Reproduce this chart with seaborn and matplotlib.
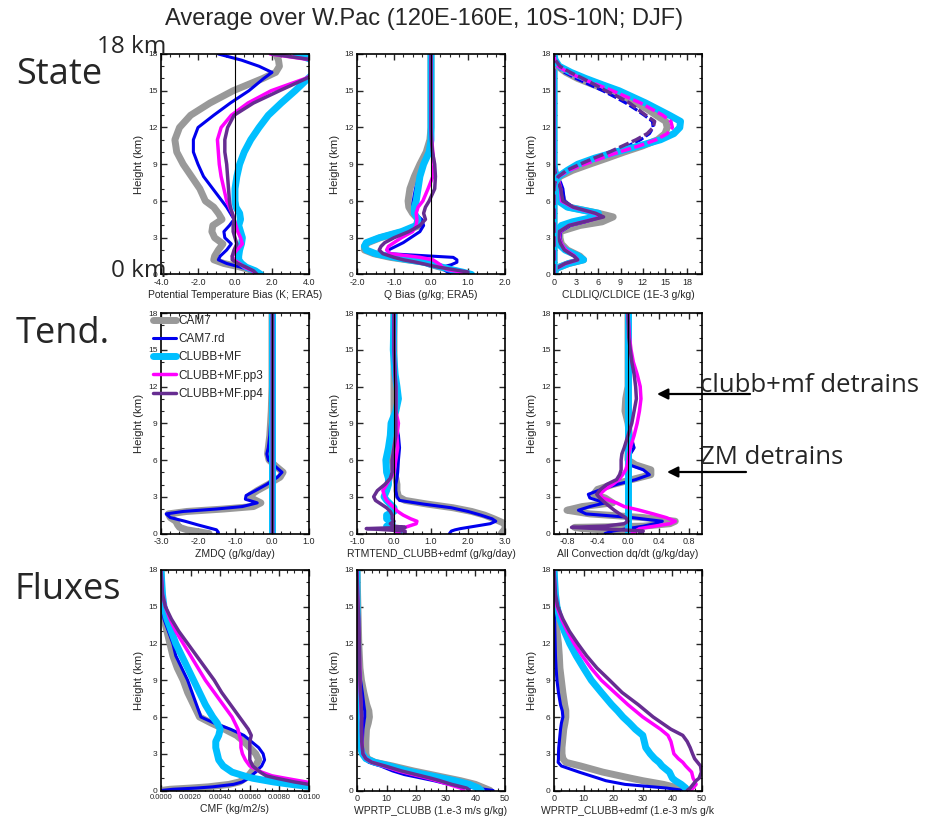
"""Vertikalprofile ueber dem W.Pac (DJF): Zustand, Tendenzen und Fluesse fuer fuenf Modelllaeufe."""

import matplotlib
matplotlib.use('Agg')
import matplotlib.pyplot as plt
import seaborn as sns
from matplotlib.ticker import FormatStrFormatter, MultipleLocator


# Laeufe und Linienstile
RUNS = ['CAM7', 'CAM7.rd', 'CLUBB+MF', 'CLUBB+MF.pp3', 'CLUBB+MF.pp4']
COLORS = ['#999999', '#0000ee', '#00bfff', '#ff00ff', '#662d91']
WIDTHS = [5.0, 2.2, 5.0, 2.5, 2.5]

# Potentielle Temperatur (K)
Z_THETA = [0, 0.3, 0.6, 0.9, 1.2, 1.5, 2.0, 2.5, 3.0, 3.5, 4.0, 4.5, 5.0, 5.5, 6.0, 7.0, 8.0, 9.0,
           10, 11, 12, 13, 14, 15, 16, 16.5, 17, 17.5, 18]
THETA_CAM7 = [1.3, 1.0, 0.3, -0.6, -1.15, -1.1, -0.9, -0.65, -1.1, -1.25, -1.2, -0.7, -0.9, -1.15, -1.6,
              -1.9, -2.35, -2.8, -3.15, -3.25, -3.0, -2.4, -1.35, -0.1, 1.5, 2.2, 2.4, 2.35, 2.2]
THETA_RD = [1.3, 0.95, 0.3, -0.45, -0.9, -0.8, -0.45, -0.2, -0.55, -0.6, -0.3, -0.05, -0.25, -0.45, -0.7,
            -1.2, -1.7, -2.0, -2.25, -2.25, -2.0, -1.15, -0.25, 0.75, 1.55, 2.0, 1.3, 0.35, -0.9]
THETA_MF = [1.4, 1.1, 0.6, 0.35, 0.2, 0.2, 0.25, 0.35, 0.4, 0.3, 0.2, 0.3, 0.25, 0.05, 0.0,
            0.0, 0.1, 0.25, 0.5, 0.85, 1.3, 1.8, 2.5, 3.25, 3.95, 4.3, 4.3, 4.2, 3.3]
THETA_PP3 = [1.15, 0.95, 0.5, 0.25, -0.05, -0.15, 0.1, 0.4, 0.3, 0.15, 0.05, -0.05, -0.15, -0.3, -0.45,
             -0.6, -0.75, -0.85, -0.9, -0.95, -0.75, -0.2, 0.7, 1.95, 3.8, 4.4, 4.5, 4.2, 1.9]
THETA_PP4 = [1.2, 1.0, 0.6, 0.15, -0.15, -0.15, -0.05, 0.1, 0.0, -0.1, -0.1, -0.05, -0.15, -0.25, -0.3,
             -0.35, -0.4, -0.45, -0.55, -0.55, -0.4, -0.05, 1.0, 2.4, 3.85, 4.5, 4.5, 4.3, 2.0]

# Spezifische Feuchte (g/kg)
Z_Q = [0, 0.2, 0.4, 0.6, 0.8, 1.0, 1.2, 1.4, 1.7, 2.0, 2.3, 2.6, 3.0, 3.5, 4.0, 4.5, 5.0, 5.5, 6.0,
       7.0, 8.0, 9.0, 10, 11, 12, 14, 16, 18]
Q_CAM7 = [1.0, 0.75, 0.5, 0.25, 0.0, -0.15, -0.65, -1.1, -1.55, -1.8, -1.8, -1.7, -1.37, -0.75, -0.3,
          -0.35, -0.5, -0.6, -0.62, -0.57, -0.45, -0.3, -0.13, -0.03, 0.0, 0.0, 0.0, 0.0]
Q_RD = [0.6, 0.45, 0.35, 0.3, 0.55, 0.7, 0.7, 0.6, -1.15, -1.15, -0.95, -0.75, -0.55, -0.3, -0.2,
        -0.25, -0.45, -0.5, -0.48, -0.42, -0.32, -0.2, -0.05, 0.0, 0.0, 0.0, 0.0, 0.0]
Q_MF = [1.1, 0.85, 0.55, 0.3, 0.05, -0.2, -0.6, -1.0, -1.5, -1.75, -1.8, -1.75, -1.4, -0.8, -0.4,
        -0.35, -0.45, -0.45, -0.4, -0.35, -0.3, -0.2, -0.05, 0.0, 0.0, 0.0, 0.0, 0.0]
Q_PP3 = [1.0, 0.8, 0.45, 0.3, 0.25, 0.15, 0.05, -0.3, -1.1, -1.2, -1.15, -1.0, -0.8, -0.5, -0.4,
         -0.38, -0.4, -0.35, -0.22, -0.08, 0.05, 0.08, 0.05, 0.02, 0.0, 0.0, 0.0, 0.0]
Q_PP4 = [0.9, 1.0, 0.6, 0.2, -0.1, -0.4, -0.75, -1.0, -1.3, -1.4, -1.35, -1.25, -1.0, -0.6, -0.3,
         -0.15, -0.2, -0.15, -0.05, 0.1, 0.12, 0.1, 0.04, 0.01, 0.0, 0.0, 0.0, 0.0]

# Wolkenwasser (durchgezogen) und Wolkeneis (gestrichelt), 1E-3 g/kg
Z_CLD = [0, 0.5, 0.9, 1.2, 1.5, 2.0, 2.5, 3.0, 3.5, 4.0, 4.3, 4.7, 5.0, 5.5, 6.0, 7.0, 7.5, 8.0, 8.5,
         9.0, 9.5, 10, 10.5, 11, 11.5, 12, 12.5, 13, 13.5, 14, 14.5, 15, 15.5, 16, 16.5, 17, 17.5, 18]
LIQ_CAM7 = [0.0, 0.3, 2.0, 4.0, 3.5, 1.8, 1.0, 0.8, 0.8, 3.5, 6.5, 8.0, 6.0, 2.0, 1.2, 0.8, 0.5, 0.3, 0.1,
            0.0, 0.0, 0.0, 0.0, 0.0, 0.0, 0.0, 0.0, 0.0, 0.0, 0.0, 0.0, 0.0, 0.0, 0.0, 0.0, 0.0, 0.0, 0.0]
LIQ_RD = [0.0, 0.3, 1.6, 3.2, 2.8, 1.6, 1.0, 0.8, 0.9, 2.2, 4.2, 6.4, 5.2, 2.6, 1.4, 1.2, 0.9, 0.5, 0.1,
          0.0, 0.0, 0.0, 0.0, 0.0, 0.0, 0.0, 0.0, 0.0, 0.0, 0.0, 0.0, 0.0, 0.0, 0.0, 0.0, 0.0, 0.0, 0.0]
LIQ_MF = [0.0, 0.3, 2.0, 4.0, 3.3, 1.5, 0.6, 0.3, 0.3, 1.0, 2.5, 5.5, 6.0, 1.8, 0.6, 0.4, 0.35, 0.3, 0.1,
          0.0, 0.0, 0.0, 0.0, 0.0, 0.0, 0.0, 0.0, 0.0, 0.0, 0.0, 0.0, 0.0, 0.0, 0.0, 0.0, 0.0, 0.0, 0.0]
LIQ_PP3 = [0.0, 0.3, 1.6, 3.2, 2.8, 1.6, 1.0, 0.7, 0.8, 2.0, 4.0, 6.5, 5.5, 2.5, 1.0, 0.9, 0.7, 0.4, 0.1,
           0.0, 0.0, 0.0, 0.0, 0.0, 0.0, 0.0, 0.0, 0.0, 0.0, 0.0, 0.0, 0.0, 0.0, 0.0, 0.0, 0.0, 0.0, 0.0]
LIQ_PP4 = [0.0, 0.3, 1.5, 3.2, 2.7, 1.4, 0.9, 0.6, 0.7, 2.0, 4.0, 6.7, 5.6, 2.6, 1.2, 0.9, 0.6, 0.3, 0.1,
           0.0, 0.0, 0.0, 0.0, 0.0, 0.0, 0.0, 0.0, 0.0, 0.0, 0.0, 0.0, 0.0, 0.0, 0.0, 0.0, 0.0, 0.0, 0.0]
ICE_CAM7 = [0.0, 0.0, 0.0, 0.0, 0.0, 0.0, 0.0, 0.0, 0.0, 0.0, 0.0, 0.0, 0.0, 0.0, 0.0, 0.0,
            0.1, 0.8, 2.5, 4.8, 7.2, 9.5, 12.0, 14.0, 15.0, 15.3, 15.1, 13.8, 12.6, 11.1, 9.3, 7.5,
            5.3, 3.2, 1.6, 0.5, 0.1, 0.0]
ICE_RD = [0.0, 0.0, 0.0, 0.0, 0.0, 0.0, 0.0, 0.0, 0.0, 0.0, 0.0, 0.0, 0.0, 0.0, 0.0, 0.0,
          0.1, 0.6, 1.8, 3.5, 5.6, 7.8, 10.0, 11.7, 12.9, 13.4, 13.3, 12.2, 11.0, 9.7, 8.2, 6.6,
          4.8, 3.0, 1.4, 0.4, 0.1, 0.0]
ICE_MF = [0.0, 0.0, 0.0, 0.0, 0.0, 0.0, 0.0, 0.0, 0.0, 0.0, 0.0, 0.0, 0.0, 0.0, 0.0, 0.0,
          0.1, 0.6, 1.8, 3.2, 5.5, 8.4, 11.5, 14.4, 16.2, 17.0, 17.1, 15.6, 14.0, 12.4, 10.6, 8.8,
          6.5, 4.3, 2.3, 0.7, 0.15, 0.0]
ICE_PP3 = [0.0, 0.0, 0.0, 0.0, 0.0, 0.0, 0.0, 0.0, 0.0, 0.0, 0.0, 0.0, 0.0, 0.0, 0.0, 0.0,
           0.1, 0.6, 2.0, 4.1, 6.4, 8.8, 11.5, 13.8, 15.3, 16.0, 15.8, 14.7, 13.2, 11.7, 9.8, 7.9,
           5.8, 3.7, 1.9, 0.5, 0.1, 0.0]
ICE_PP4 = [0.0, 0.0, 0.0, 0.0, 0.0, 0.0, 0.0, 0.0, 0.0, 0.0, 0.0, 0.0, 0.0, 0.0, 0.0, 0.0,
           0.1, 0.6, 1.7, 3.5, 5.4, 7.5, 9.3, 11.1, 12.6, 13.4, 13.6, 12.4, 11.3, 10.2, 8.7, 7.0,
           5.5, 3.9, 2.2, 0.8, 0.2, 0.0]

# ZMDQ (g/kg/day)
Z_ZMDQ = [0, 0.1, 0.3, 0.5, 0.7, 1.0, 1.3, 1.6, 1.8, 2.0, 2.2, 2.5, 2.8, 3.1, 3.5, 4.0, 4.3, 4.6, 5.0,
          5.5, 6.0, 6.5, 7, 8, 9, 10, 12, 15, 18]
ZMDQ_CAM7 = [-1.7, -1.9, -2.3, -2.5, -2.55, -2.6, -2.75, -2.8, -2.3, -1.3, -0.5, -0.3, -0.5, -0.6, -0.4,
             -0.1, 0.05, 0.22, 0.3, 0.1, -0.08, -0.12, -0.1, -0.06, -0.04, -0.02, 0.0, 0.0, 0.0]
ZMDQ_RD = [-1.45, -1.45, -1.5, -1.75, -2.0, -2.35, -2.75, -2.86, -2.4, -1.5, -0.8, -0.4, -0.72, -0.7, -0.45,
           -0.15, 0.0, 0.15, 0.27, 0.08, -0.1, -0.14, -0.1, -0.06, -0.04, -0.02, 0.0, 0.0, 0.0]
Z_FLAT = [0, 18]
ZMDQ_MF = [0.0, 0.0]
ZMDQ_PP3 = [0.0, 0.0]
ZMDQ_PP4 = [0.0, 0.0]

# RTMTEND_CLUBB+edmf (g/kg/day)
Z_RTM = [0, 0.2, 0.3, 0.4, 0.5, 0.6, 0.8, 1.0, 1.2, 1.5, 1.8, 2.1, 2.4, 2.7, 3.0, 3.5, 4.0, 4.5, 5.0,
         6.0, 7.0, 8.0, 9.0, 10, 11, 12, 13, 15, 18]
RTM_CAM7 = [2.9, 2.95, 3.0, 3.0, 3.0, 3.0, 3.0, 2.85, 2.7, 2.45, 2.1, 1.6, 0.9, 0.3, 0.12, 0.08, 0.08,
            0.05, 0.0, -0.05, -0.05, 0.0, 0.0, 0.0, 0.0, 0.0, 0.0, 0.0, 0.0]
RTM_RD = [1.5, 1.55, 1.65, 1.8, 2.0, 2.2, 2.6, 2.75, 2.65, 2.35, 2.0, 1.55, 0.8, 0.15, 0.08, 0.05, 0.05,
          0.08, 0.1, 0.12, 0.15, 0.12, 0.05, 0.08, 0.15, 0.1, 0.05, 0.02, 0.0]
RTM_MF = [0.1, 0.15, 0.1, 0.05, -0.1, -0.2, -0.05, -0.1, -0.2, -0.2, 0.0, 0.0, -0.1, -0.2, -0.27, -0.2,
          -0.15, -0.15, -0.2, -0.22, -0.15, -0.1, -0.08, 0.05, 0.12, 0.08, 0.03, -0.02, 0.0]
RTM_PP3 = [0.15, 0.05, 0.05, 0.2, 0.3, 0.4, 0.6, 0.62, 0.45, 0.25, 0.1, 0.0, -0.1, -0.2, -0.25, -0.3,
           -0.2, -0.1, 0.0, 0.05, 0.1, 0.08, 0.12, 0.05, 0.05, 0.05, 0.03, 0.0, 0.0]
RTM_PP4 = [0.3, 0.3, -0.2, -0.75, 0.3, 0.0, -0.1, 0.0, -0.05, -0.05, -0.1, -0.2, -0.35, -0.5, -0.55,
           -0.45, -0.25, -0.1, -0.05, -0.05, 0.0, 0.05, 0.05, 0.05, 0.05, 0.05, 0.03, 0.0, 0.0]

# Gesamte Konvektion dq/dt (g/kg/day)
Z_CONV = [0, 0.2, 0.4, 0.5, 0.6, 0.8, 1.0, 1.3, 1.6, 1.9, 2.2, 2.5, 2.9, 3.2, 3.6, 4.0, 4.4, 4.8, 5.2,
          5.6, 6.0, 6.5, 7.0, 8, 9, 10, 11, 12, 13, 14, 15, 16, 18]
CONV_CAM7 = [0.05, -0.1, -0.6, -0.7, 0.2, 0.55, 0.62, 0.2, -0.5, -0.8, -0.6, -0.2, -0.3, -0.45, -0.4,
             -0.2, 0.05, 0.3, 0.3, 0.1, 0.0, 0.0, 0.05, 0.02, 0.0, -0.04, -0.03, 0.0, 0.0, 0.0, 0.0, 0.0, 0.0]
CONV_RD = [-0.3, -0.2, 0.0, 0.1, 0.2, 0.35, 0.45, 0.05, -0.55, -0.65, -0.5, -0.3, -0.5, -0.52, -0.35,
           -0.15, 0.1, 0.28, 0.2, 0.02, -0.02, 0.03, 0.08, 0.03, 0.0, 0.0, 0.0, 0.0, 0.0, 0.0, 0.0, 0.0, 0.0]
CONV_MF = [0.0, 0.0]
CONV_PP3 = [0.05, 0.1, 0.15, 0.25, 0.35, 0.55, 0.62, 0.5, 0.33, 0.15, -0.05, -0.15, -0.33, -0.37, -0.3,
            -0.2, -0.12, -0.07, -0.03, -0.01, 0.0, 0.01, 0.03, 0.08, 0.12, 0.15, 0.17, 0.16, 0.12, 0.07,
            0.04, 0.02, 0.0]
CONV_PP4 = [0.15, 0.2, -0.4, -0.74, -0.3, -0.05, 0.0, -0.03, -0.11, -0.18, -0.24, -0.3, -0.37, -0.41, -0.36,
            -0.28, -0.15, -0.11, -0.09, -0.09, -0.09, -0.08, -0.05, 0.0, 0.05, 0.08, 0.11, 0.1, 0.08, 0.05,
            0.03, 0.01, 0.0]

# Konvektiver Massenfluss (kg/m2/s)
Z_CMF = [0, 0.1, 0.2, 0.3, 0.5, 0.7, 1.0, 1.2, 1.5, 2.0, 2.5, 3.0, 3.5, 4.0, 4.5, 5.0, 5.5, 6.0, 7.0,
         8.0, 9.0, 10, 11, 12, 13, 14, 15, 16, 18]
CMF_CAM7 = [0.0, 0.0006, 0.0020, 0.0032, 0.0046, 0.0053, 0.0057, 0.0059, 0.0061, 0.0064, 0.0066, 0.0064,
            0.0060, 0.0056, 0.0051, 0.0043, 0.0034, 0.0026, 0.0022, 0.0018, 0.0015, 0.0011, 0.0008, 0.0006,
            0.0004, 0.0002, 0.0001, 0.00005, 0.0]
CMF_RD = [0.0, 0.0008, 0.0024, 0.0035, 0.0049, 0.0055, 0.0059, 0.0061, 0.0064, 0.0068, 0.0070, 0.0069,
          0.0066, 0.0061, 0.0056, 0.0047, 0.0036, 0.0027, 0.0024, 0.0021, 0.0018, 0.0014, 0.0010, 0.0008,
          0.0005, 0.0002, 0.0001, 0.00005, 0.0]
CMF_MF = [0.0110, 0.0110, 0.0106, 0.0102, 0.0088, 0.0076, 0.0062, 0.0056, 0.0048, 0.0042, 0.0039, 0.0038,
          0.0037, 0.0037, 0.0039, 0.0040, 0.0038, 0.0035, 0.0030, 0.0026, 0.0022, 0.0018, 0.0014, 0.0010,
          0.0007, 0.0004, 0.0002, 0.0001, 0.0]
CMF_PP3 = [0.0115, 0.0115, 0.0112, 0.0110, 0.0105, 0.0098, 0.0084, 0.0075, 0.0068, 0.0060, 0.0057, 0.0055,
           0.0054, 0.0054, 0.0053, 0.0052, 0.0050, 0.0048, 0.0042, 0.0036, 0.0030, 0.0025, 0.0020, 0.0015,
           0.0010, 0.0006, 0.0003, 0.0001, 0.0]
CMF_PP4 = [0.0115, 0.0115, 0.0112, 0.0108, 0.0100, 0.0090, 0.0078, 0.0071, 0.0067, 0.0062, 0.0060, 0.0060,
           0.0060, 0.0060, 0.0061, 0.0059, 0.0056, 0.0053, 0.0047, 0.0041, 0.0036, 0.0030, 0.0024, 0.0018,
           0.0012, 0.0007, 0.0003, 0.0001, 0.0]

# WPRTP_CLUBB (1.e-3 m/s g/kg)
Z_WP = [0, 0.2, 0.5, 0.8, 1.0, 1.3, 1.6, 2.0, 2.3, 2.6, 3.0, 3.5, 4.0, 5.0, 5.5, 6.0, 6.5, 7.0, 8.0, 9.0,
        10, 12, 14, 16, 18]
WP_CAM7 = [45, 43, 40, 35, 31, 25, 19, 12, 6, 3.5, 3.0, 3.0, 3.0, 3.2, 3.8, 4.2, 4.0, 3.3, 2.3, 1.5,
           1.0, 0.6, 0.4, 0.2, 0.0]
WP_RD = [46, 40, 31, 26, 22, 16, 12, 8, 4, 2.5, 2.0, 1.8, 1.8, 2.0, 2.3, 2.6, 2.6, 2.3, 1.8, 1.2,
         0.8, 0.5, 0.3, 0.1, 0.0]
WP_MF = [42, 41, 38, 33, 29, 23, 17, 11, 6, 3, 1.8, 1.2, 1.0, 0.8, 0.7, 0.6, 0.6, 0.5, 0.4, 0.3,
         0.2, 0.2, 0.1, 0.0, 0.0]
WP_PP3 = [36, 35, 31, 27, 24, 19, 14, 9, 5, 3, 2.0, 1.8, 1.6, 1.5, 1.5, 1.5, 1.4, 1.3, 1.1, 1.0,
          0.9, 0.7, 0.5, 0.2, 0.0]
WP_PP4 = [38, 37, 32, 28, 25, 20, 15, 9.5, 5, 3, 2.0, 1.8, 1.6, 1.5, 1.5, 1.6, 1.5, 1.4, 1.2, 1.0,
          0.9, 0.8, 0.6, 0.2, 0.0]

# WPRTP_CLUBB+edmf (1.e-3 m/s g/kg)
Z_WPE = [0, 0.2, 0.5, 0.8, 1.0, 1.5, 2.0, 2.3, 2.6, 3.0, 3.5, 4.0, 4.5, 5.0, 5.5, 6.0, 6.5, 7.0, 8.0,
         9.0, 10, 11, 12, 13, 14, 15, 16, 18]
WPE_CAM7 = [45, 42, 37, 30, 26, 16.5, 9, 4, 3, 2.7, 2.7, 2.9, 3.1, 3.3, 3.7, 4.0, 4.0, 3.6, 3.0, 2.5,
            2.0, 1.8, 1.5, 1.0, 0.5, 0.2, 0.1, 0.0]
WPE_RD = [44, 38, 24, 17.5, 15, 8.5, 2.5, 1.4, 1.5, 1.5, 1.6, 1.8, 2.0, 2.2, 2.5, 3.0, 2.8, 2.2, 1.5,
          1.0, 0.7, 0.5, 0.4, 0.3, 0.2, 0.1, 0.05, 0.0]
WPE_MF = [45, 44.5, 43, 41, 40, 39, 36.5, 35.5, 34, 32.5, 31, 30.5, 30, 27.5, 25.5, 23.3, 21.5, 19.5,
          16, 12.6, 10, 7.5, 5.3, 3.5, 2.0, 1.0, 0.5, 0.0]
WPE_PP3 = [46, 47, 48, 47.5, 47, 46.5, 44.5, 43.5, 42, 40.5, 40, 39.5, 38.5, 36, 33, 30, 27.5, 25,
           20.5, 16, 12.5, 9.5, 6.8, 4.5, 2.5, 1.0, 0.4, 0.0]
WPE_PP4 = [45, 46, 47, 48, 49, 49.8, 49.5, 48.5, 47.5, 46.8, 46, 45, 43.5, 39.5, 36.5, 33.5, 31, 28.5,
           23, 18.8, 14.5, 11, 8, 5.2, 3.0, 1.3, 0.5, 0.0]

W, H = 929, 822
COL_LEFT = [161, 357, 554]
ROW_TOP = [54, 313, 570]
AX_W, AX_H = 148, 220.5


def draw_profiles(ax, profiles, dashed=False):
    """Zeichnet die fuenf Laeufe als Hoehenprofile (Hoehe auf der y-Achse)."""
    for run, (heights, values), color, width in zip(RUNS, profiles, COLORS, WIDTHS):
        kws = {}
        if dashed and width < 4:
            kws['linestyle'] = (0, (3, 1))
        sns.lineplot(x=values, y=heights, orient='y', estimator=None, sort=False, color=color,
                     linewidth=width, label=run, legend=False, ax=ax, **kws)


def style_axes(ax, xlim, xmajor, xminor, xfmt, xlabel, zero_line=True, xtick_size=6.5):
    """NCL-artiger Rahmen: Ticks nach innen auf allen Seiten."""
    if zero_line:
        ax.axvline(0, color='black', lw=0.8, zorder=6)
    ax.set_xlim(*xlim)
    ax.set_ylim(0, 18)
    ax.xaxis.set_major_locator(MultipleLocator(xmajor))
    ax.xaxis.set_minor_locator(MultipleLocator(xminor))
    ax.xaxis.set_major_formatter(FormatStrFormatter(xfmt))
    ax.yaxis.set_major_locator(MultipleLocator(3))
    ax.yaxis.set_minor_locator(MultipleLocator(1))
    ax.tick_params(which='both', direction='in', top=True, right=True, pad=2.5)
    ax.tick_params(axis='x', labelsize=xtick_size)
    ax.tick_params(axis='y', labelsize=6)
    ax.tick_params(which='major', length=4.5, width=1.0)
    ax.tick_params(which='minor', length=2.2, width=0.8)
    ax.set_xlabel(xlabel, fontsize=7.5, labelpad=2.5)
    ax.set_ylabel('Height (km)', fontsize=8.2, labelpad=3)
    for spine in ax.spines.values():
        spine.set_visible(True)
        spine.set_color('black')
        spine.set_linewidth(1.2)


def main():
    sns.set_style('ticks')
    plt.rcParams['font.family'] = ['Liberation Sans', 'DejaVu Sans']

    fig = plt.figure(figsize=(W / 100, H / 100), dpi=100)
    axes = [[fig.add_axes([left / W, 1 - (top + AX_H) / H, AX_W / W, AX_H / H]) for left in COL_LEFT]
            for top in ROW_TOP]

    # Zeile 1: Zustand
    ax = axes[0][0]
    draw_profiles(ax, [(Z_THETA, v) for v in [THETA_CAM7, THETA_RD, THETA_MF, THETA_PP3, THETA_PP4]])
    style_axes(ax, (-4, 4), 2.0, 0.5, '%.1f', 'Potential Temperature Bias (K; ERA5)')

    ax = axes[0][1]
    draw_profiles(ax, [(Z_Q, v) for v in [Q_CAM7, Q_RD, Q_MF, Q_PP3, Q_PP4]])
    style_axes(ax, (-2, 2), 1.0, 0.25, '%.1f', 'Q Bias (g/kg; ERA5)')

    ax = axes[0][2]
    draw_profiles(ax, [(Z_CLD, v) for v in [LIQ_CAM7, LIQ_RD, LIQ_MF, LIQ_PP3, LIQ_PP4]])
    draw_profiles(ax, [(Z_CLD, v) for v in [ICE_CAM7, ICE_RD, ICE_MF, ICE_PP3, ICE_PP4]], dashed=True)
    style_axes(ax, (0, 20), 3, 1, '%d', 'CLDLIQ/CLDICE (1E-3 g/kg)', zero_line=False)

    # Zeile 2: Tendenzen
    ax = axes[1][0]
    draw_profiles(ax, [(Z_ZMDQ, ZMDQ_CAM7), (Z_ZMDQ, ZMDQ_RD), (Z_FLAT, ZMDQ_MF),
                       (Z_FLAT, ZMDQ_PP3), (Z_FLAT, ZMDQ_PP4)])
    style_axes(ax, (-3, 1), 1.0, 0.25, '%.1f', 'ZMDQ (g/kg/day)')
    handles, labels = ax.get_legend_handles_labels()
    ax.legend(handles[:5], labels[:5], loc='upper left', bbox_to_anchor=(-0.055, 0.99),
              frameon=False, fontsize=8.5, handlelength=2.0, handletextpad=0.15,
              labelspacing=0.52, borderpad=0, borderaxespad=0)

    ax = axes[1][1]
    draw_profiles(ax, [(Z_RTM, v) for v in [RTM_CAM7, RTM_RD, RTM_MF, RTM_PP3, RTM_PP4]])
    style_axes(ax, (-1, 3), 1.0, 0.25, '%.1f', 'RTMTEND_CLUBB+edmf (g/kg/day)')

    ax = axes[1][2]
    draw_profiles(ax, [(Z_CONV, CONV_CAM7), (Z_CONV, CONV_RD), (Z_FLAT, CONV_MF),
                       (Z_CONV, CONV_PP3), (Z_CONV, CONV_PP4)])
    style_axes(ax, (-0.97, 0.97), 0.4, 0.1, '%.1f', 'All Convection dq/dt (g/kg/day)')

    # Zeile 3: Fluesse
    ax = axes[2][0]
    draw_profiles(ax, [(Z_CMF, v) for v in [CMF_CAM7, CMF_RD, CMF_MF, CMF_PP3, CMF_PP4]])
    style_axes(ax, (0, 0.01), 0.002, 0.0005, '%.4f', 'CMF (kg/m2/s)', zero_line=False, xtick_size=5.5)

    ax = axes[2][1]
    draw_profiles(ax, [(Z_WP, v) for v in [WP_CAM7, WP_RD, WP_MF, WP_PP3, WP_PP4]])
    style_axes(ax, (0, 50), 10, 2.5, '%d', 'WPRTP_CLUBB (1.e-3 m/s g/kg)', zero_line=False)

    ax = axes[2][2]
    draw_profiles(ax, [(Z_WPE, v) for v in [WPE_CAM7, WPE_RD, WPE_MF, WPE_PP3, WPE_PP4]])
    style_axes(ax, (0, 50), 10, 2.5, '%d', 'WPRTP_CLUBB+edmf (1.e-3 m/s g/k', zero_line=False)

    # Titel und Folienbeschriftungen
    fig.text(424 / W, 1 - 19 / H, 'Average over W.Pac (120E-160E, 10S-10N; DJF)',
             ha='center', va='center', fontsize=17)
    big = dict(family=['Open Sans', 'DejaVu Sans'], va='baseline', ha='left')
    fig.text(16 / W, 1 - 84 / H, 'State', fontsize=26, **big)
    fig.text(16 / W, 1 - 343 / H, 'Tend.', fontsize=26, **big)
    fig.text(15 / W, 1 - 599 / H, 'Fluxes', fontsize=26, **big)
    fig.text(97 / W, 1 - 53 / H, '18 km', fontsize=17.5, **big)
    fig.text(111 / W, 1 - 277 / H, '0 km', fontsize=17.5, **big)
    fig.text(700 / W, 1 - 392 / H, 'clubb+mf detrains', fontsize=18.5, **big)
    fig.text(700 / W, 1 - 464 / H, 'ZM detrains', fontsize=18.5, **big)

    arrow = dict(arrowstyle='-|>', color='black', lw=1.6, mutation_scale=16, shrinkA=0, shrinkB=0)
    fig.add_artist(plt.Annotation('', xy=(657 / W, 1 - 394 / H), xycoords='figure fraction',
                                  xytext=(750 / W, 1 - 394 / H), textcoords='figure fraction',
                                  arrowprops=arrow))
    fig.add_artist(plt.Annotation('', xy=(667 / W, 1 - 472 / H), xycoords='figure fraction',
                                  xytext=(746 / W, 1 - 472 / H), textcoords='figure fraction',
                                  arrowprops=arrow))

    fig.savefig('out.png', dpi=100)
    plt.close(fig)


if __name__ == '__main__':
    main()
